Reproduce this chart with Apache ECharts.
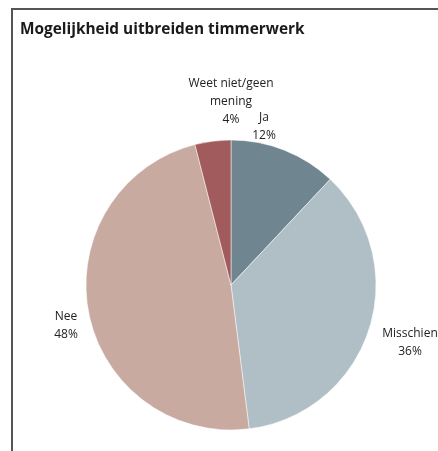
<!DOCTYPE html>
<html>
<head>
<meta charset="utf-8">
<script src="https://cdn.jsdelivr.net/npm/echarts@6/dist/echarts.min.js"></script>
<style>
  html, body { margin: 0; padding: 0; background: #fff; }
  #chart { width: 438px; height: 451px; }
</style>
</head>
<body>
<div id="chart"></div>
<script>
const categories = ['Ja', 'Misschien', 'Nee', 'Weet niet/geen\nmening'];
const percentages = [12, 36, 48, 4];
const colors = ['#6f858f', '#b0bfc6', '#c8aaa0', '#a15b5c'];

// where each label block sits (centre), in pixels
const labelSpots = [[264, 127], [410, 343], [66, 326], [231, 102]];

let chart = echarts.init(document.getElementById('chart'));
chart.setOption({
  animation: false,
  title: {
    text: 'Mogelijkheid uitbreiden timmerwerk',
    left: 20,
    top: 22,
    padding: 0,
    textStyle: {
      fontFamily: 'Open Sans',
      fontWeight: 'bold',
      fontSize: 15.4,
      color: '#1a1a1a'
    }
  },
  graphic: [
    {
      type: 'polyline',
      shape: { points: [[12, 451], [12, 9], [438, 9]] },
      style: { stroke: '#555', lineWidth: 2, fill: null }
    }
  ],
  series: [
    {
      type: 'pie',
      center: [231, 285],
      radius: 145,
      startAngle: 90,
      clockwise: true,
      itemStyle: { borderColor: '#fff', borderWidth: 0.5 },
      label: {
        position: 'outside',
        fontFamily: 'Open Sans',
        fontSize: 12,
        lineHeight: 18,
        color: '#222',
        align: 'center',
        overflow: 'none',
        formatter: p => p.name + '\n' + p.value + '%'
      },
      labelLine: { show: false },
      labelLayout: p => ({
        x: labelSpots[p.dataIndex][0],
        y: labelSpots[p.dataIndex][1],
        align: 'center',
        verticalAlign: 'middle'
      }),
      data: categories.map((c, i) => ({
        name: c,
        value: percentages[i],
        itemStyle: { color: colors[i] }
      }))
    }
  ]
});
</script>
</body>
</html>
